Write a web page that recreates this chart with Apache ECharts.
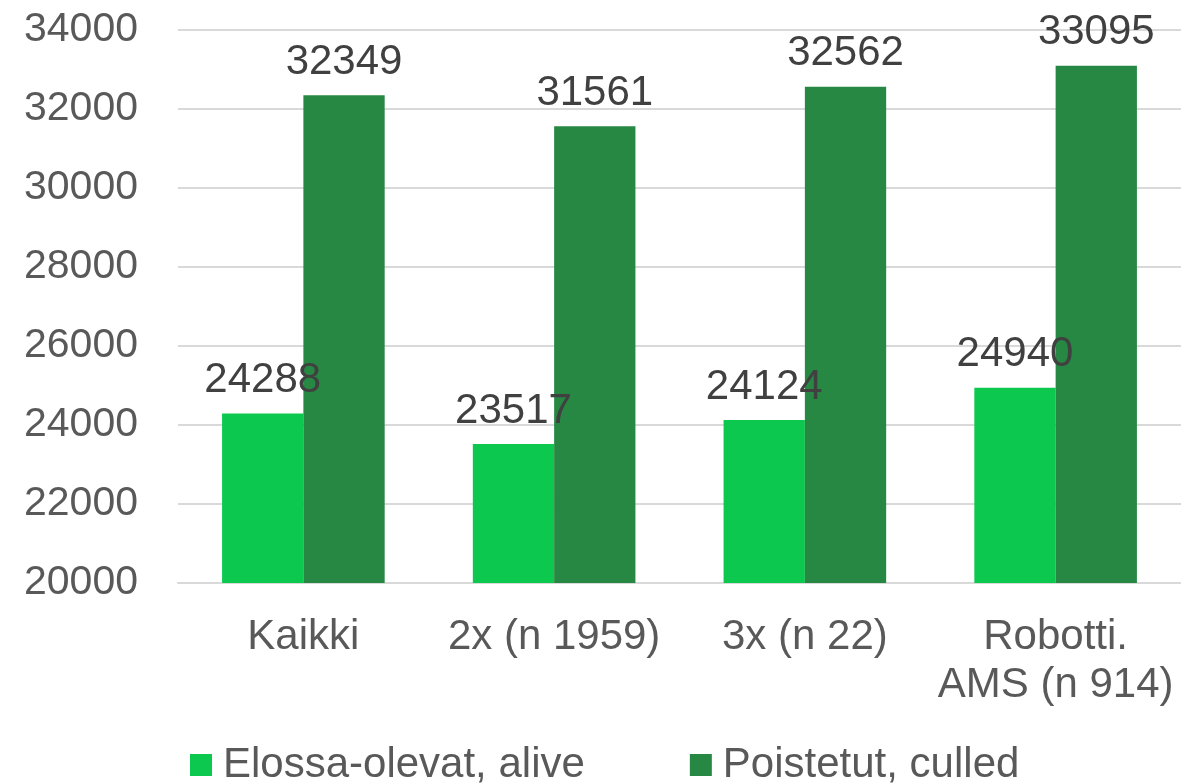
<!DOCTYPE html>
<html><head><meta charset="utf-8">
<script src="https://cdn.jsdelivr.net/npm/echarts@6/dist/echarts.min.js"></script>
<style>html,body{margin:0;padding:0;background:#fff}#c{width:1181px;height:784px}</style>
</head><body><div id="c"></div>
<script>
const categories = ['Kaikki', '2x (n 1959)', '3x (n 22)', 'Robotti.\nAMS (n 914)'];
const seriesNames = ['Elossa-olevat, alive', 'Poistetut, culled'];
const alive = [24288, 23517, 24124, 24940];
const culled = [32349, 31561, 32562, 33095];
const yTicks = [20000, 22000, 24000, 26000, 28000, 30000, 32000, 34000];

const font = '"Liberation Sans", Arial, sans-serif';
const chart = echarts.init(document.getElementById('c'));
const labelCfg = {show: true, position: 'top', distance: 12, color: '#404040', fontSize: 42, fontFamily: font};
chart.setOption({
  animation: false,
  grid: {left: 178, top: 30, width: 1005, height: 553, containLabel: false},
  legend: {
    left: 185, top: 739, itemWidth: 22, itemHeight: 22, itemGap: 105,
    icon: 'rect',
    textStyle: {fontSize: 42, color: '#595959', fontFamily: font, padding: [0, 0, 0, 6]},
    data: seriesNames
  },
  xAxis: {
    type: 'category', data: categories,
    axisLine: {lineStyle: {color: '#d9d9d9', width: 2}},
    axisTick: {show: false},
    axisLabel: {fontSize: 42, color: '#595959', fontFamily: font, margin: 30, lineHeight: 48, interval: 0}
  },
  yAxis: {
    type: 'value', min: yTicks[0], max: yTicks[yTicks.length - 1], interval: 2000,
    axisLine: {show: false}, axisTick: {show: false},
    splitLine: {lineStyle: {color: '#d9d9d9', width: 2}},
    axisLabel: {fontSize: 41, color: '#595959', fontFamily: font, margin: 40, formatter: v => String(v)}
  },
  series: [
    {name: seriesNames[0], type: 'bar', data: alive, barWidth: 81.3, barGap: '0%',
     itemStyle: {color: '#0cc84f'}, label: labelCfg},
    {name: seriesNames[1], type: 'bar', data: culled, barWidth: 81.3, barGap: '0%',
     itemStyle: {color: '#278843'}, label: labelCfg}
  ]
});
</script></body></html>
